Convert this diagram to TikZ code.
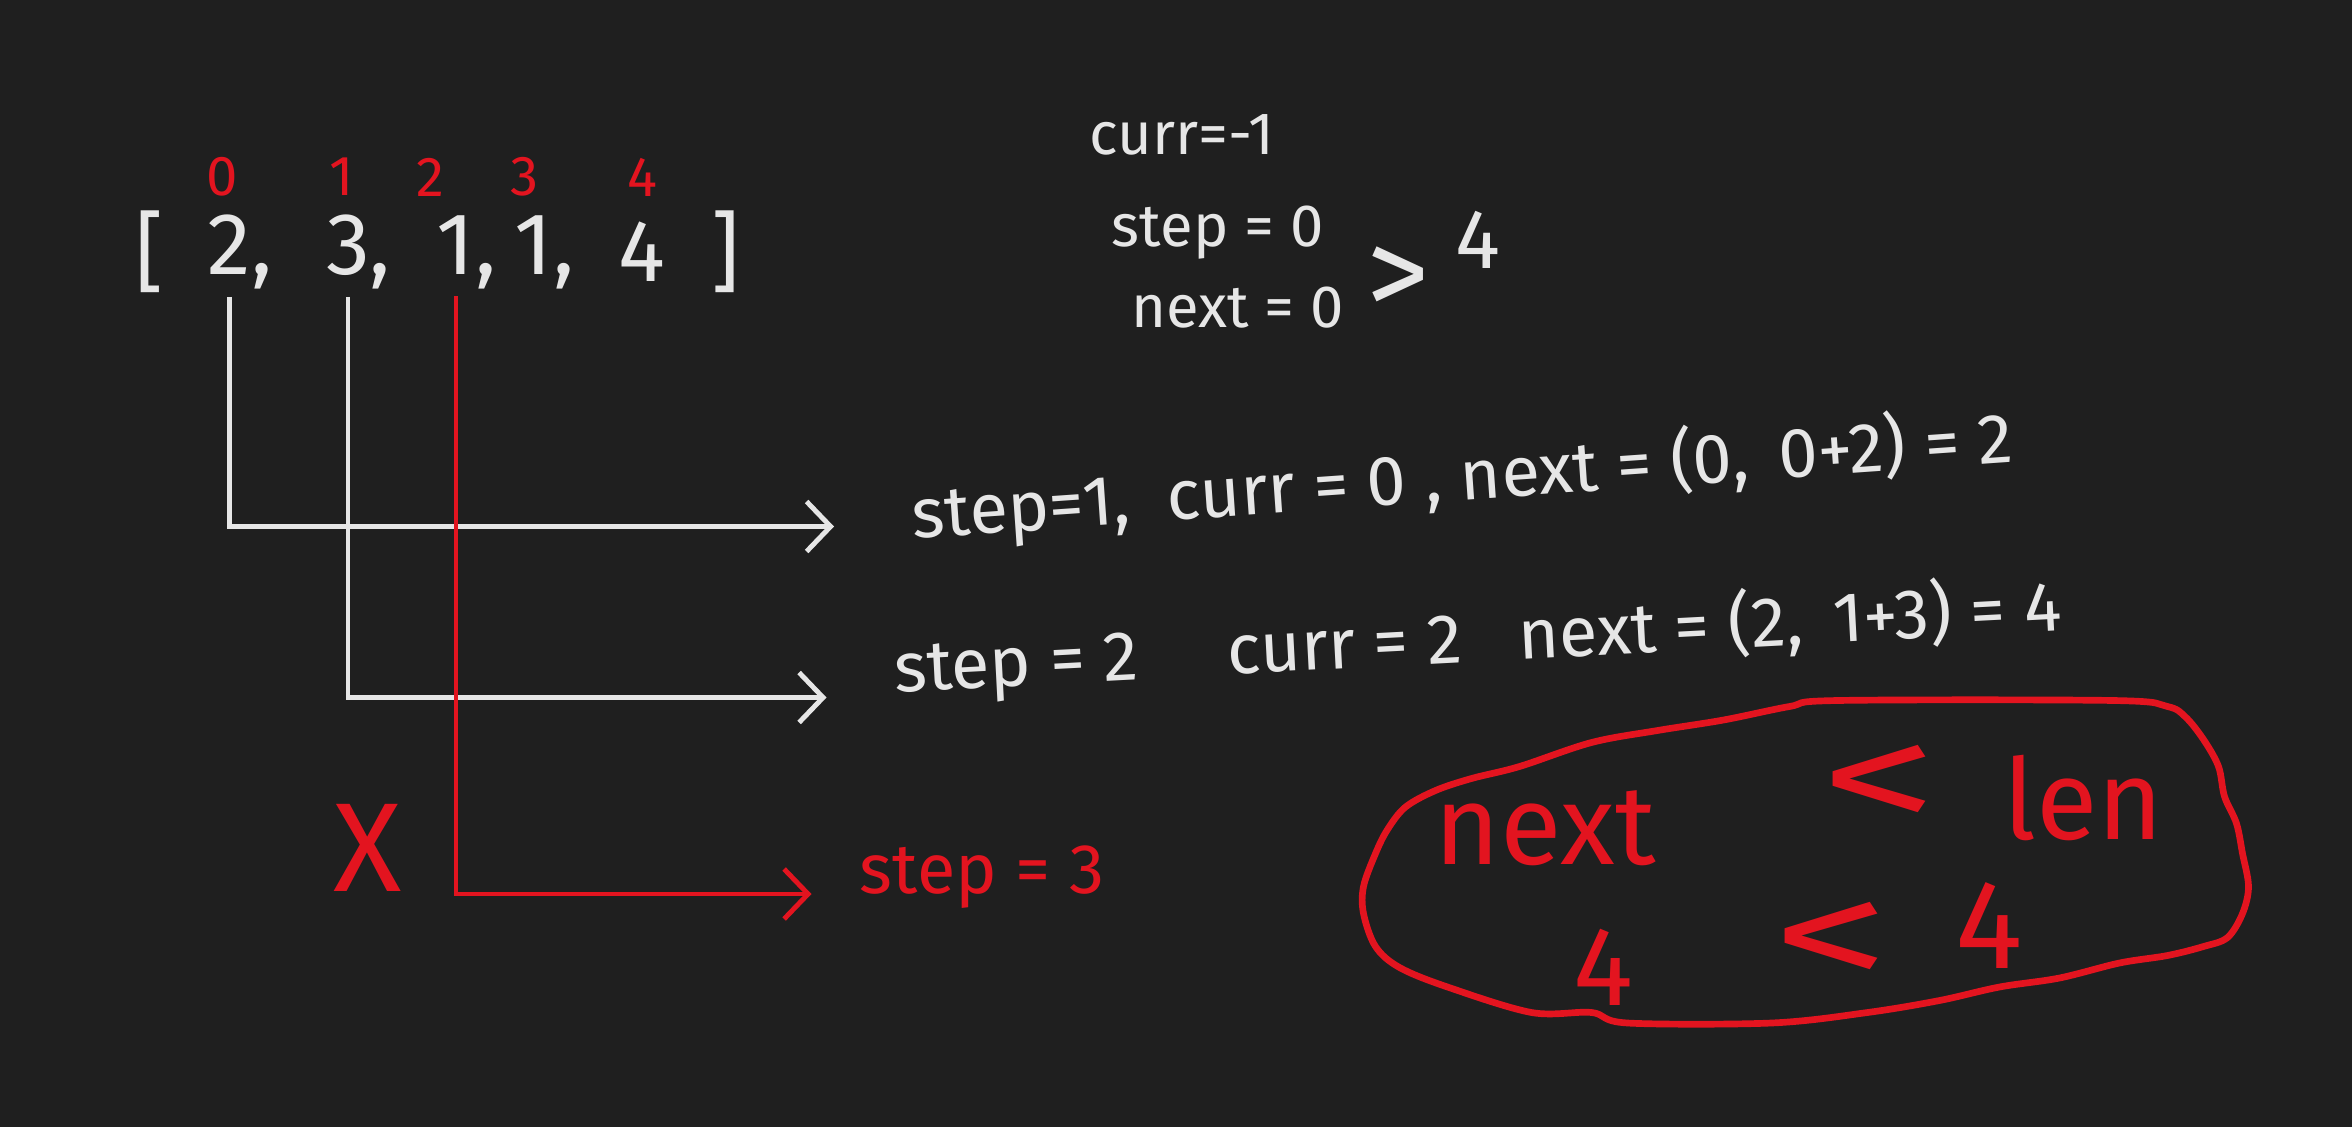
\documentclass[tikz,border=0pt]{standalone}
\usepackage{fontspec}
\setmainfont{Fira Sans}
\usetikzlibrary{arrows.meta}
\definecolor{board}{HTML}{1F1F1F}
\definecolor{chalk}{HTML}{E6E6E6}
\definecolor{marker}{HTML}{E3141F}
\tikzset{
  wline/.style={chalk, line width=1.4pt, -{Straight Barb[length=2.4mm,width=5mm]}},
  rline/.style={marker, line width=1.4pt, -{Straight Barb[length=2.4mm,width=5mm]}},
  elem/.style={chalk, inner sep=2pt, font=\fontsize{25}{28}\selectfont},
  idx/.style={marker, font=\fontsize{16}{18}\selectfont},
  note/.style={chalk, anchor=west, font=\fontsize{17}{20}\selectfont},
  wide/.style={note, font=\fontsize{20}{24}\selectfont},
  big/.style={marker, font=\fontsize{#1}{#1}\selectfont},
}
\begin{document}
\begin{tikzpicture}[x=0.15mm, y=-0.15mm]
  \fill[board] (0,0) rectangle (1568,751);
  % the array and its indices
  \node[elem] (lb) at (100,168) {[};
  \node[elem] (a0) at (153,168) {2\rlap{,}};
  \node[elem] (a1) at (232,168) {3\rlap{,}};
  \node[elem] (a2) at (304,168) {1\rlap{,}};
  \node[elem] (a3) at (356,168) {1\rlap{,}};
  \node[elem] (a4) at (428,168) {4};
  \node[elem] (rb) at (484,168) {]};
  \foreach \i/\x in {0/148,1/228,2/287,3/350,4/428}
    \node[idx] (i\i) at (\x,118) {\i};
  % start values
  \node[note] (curr0) at (718,90) {curr=-1};
  \node[note] (step0) at (733,155) {step = 0};
  \node[note] (next0) at (746,205) {next = 0};
  \node[chalk, font=\fontsize{36}{36}\selectfont] (gt) at (932,188) {>};
  \node[chalk, font=\fontsize{24}{28}\selectfont] (lenv) at (985,160) {4};
  % jumps
  \coordinate (e1) at (556,351);
  \coordinate (e2) at (551,465);
  \coordinate (e3) at (541,596);
  \draw[wline] (a0.south) |- (e1);
  \draw[wline] (a1.south) |- (e2);
  \draw[rline] (a2.south) |- (e3);
  \node[wide, rotate=4] (step1) at (600,345) {step=1,\ \ curr = 0 ,\ next = (0,\, 0+2) = 2};
  \node[wide, rotate=3] (step2) at (588,447) {step = 2\quad\ curr = 2\ \ \ next = (2,\, 1+3) = 4};
  \node[wide, marker] (step3) at (565,585) {step = 3};
  \node[big=36] (cross) at (245,565) {X};
  % stop condition
  \draw[marker, line width=1.9pt] plot[smooth cycle, tension=0.55] coordinates {
    (1225,467) (1409,467) (1445,471) (1457,478) (1469,493) (1479,511)
    (1483,531) (1491,549) (1495,569) (1499,591) (1495,609) (1485,625)
    (1469,631) (1445,637) (1413,642) (1373,652) (1333,658) (1293,667)
    (1245,675) (1181,682) (1085,682) (1061,675) (1021,675) (965,658)
    (933,645) (917,631) (909,609) (909,591) (917,569) (925,553)
    (937,538) (957,527) (981,519) (1013,511) (1061,495) (1105,487)
    (1149,480) (1193,471)};
  \node[big=32] (nx) at (1030,552) {next};
  \node[big=44, xscale=1.5] (lt1) at (1253,525) {<};
  \node[big=32] (len) at (1389,532) {len};
  \node[big=32] (l4) at (1069,645) {4};
  \node[big=44, xscale=1.5] (lt2) at (1221,630) {<};
  \node[big=36] (r4) at (1326,617) {4};
\end{tikzpicture}
\end{document}
